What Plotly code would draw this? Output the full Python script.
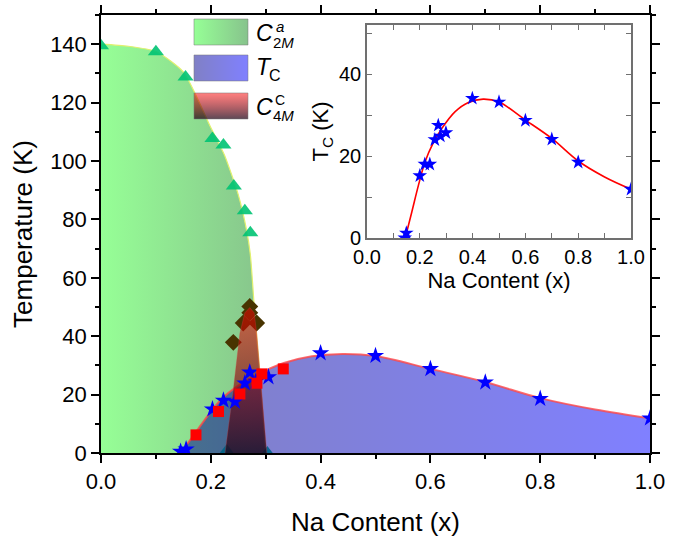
import plotly.graph_objects as go

# ---------------- data ----------------
# C2M^a phase boundary (green area)
c2m_x = [0.0, 0.05, 0.10, 0.15, 0.20, 0.225, 0.25, 0.265, 0.272, 0.28, 0.29, 0.30]
c2m_T = [140, 139.3, 137.5, 130.5, 111.5, 102, 88.5, 76.5, 68, 48, 26, 0]
# C2M^a data points (triangles)
tri_x = [0.0, 0.10, 0.154, 0.203, 0.223, 0.242, 0.262, 0.272, 0.229, 0.303]
tri_T = [139.5, 137.4, 128.8, 107.7, 105.5, 91.4, 83.0, 75.4, 0.7, 0.0]
# C4M^C dome (red area) and diamonds
c4m_x = [0.226, 0.241, 0.253, 0.262, 0.271, 0.279, 0.2836, 0.2927, 0.302]
c4m_T = [0, 21.6, 41, 48, 49.8, 48, 41, 21.6, 0]
dia_x = [0.241, 0.259, 0.271, 0.271, 0.2836]
dia_T = [37.9, 44.5, 48.0, 50.2, 44.5]
# Tc dome (blue area / red curve)
tc_x = [0.145, 0.17, 0.195, 0.22, 0.25, 0.283, 0.333, 0.384, 0.44, 0.50, 0.60, 0.70, 0.80, 0.90, 1.0]
tc_T = [0.0, 6.4, 12.9, 18.6, 23.1, 26.7, 30.8, 33.1, 33.9, 33.2, 28.8, 24.3, 18.8, 14.9, 11.9]
# Tc points, main panel (stars)
star_x = [0.145, 0.155, 0.203, 0.223, 0.244, 0.262, 0.271, 0.282, 0.305, 0.40, 0.50, 0.60, 0.70, 0.80, 1.0]
star_T = [0.5, 1.3, 15.0, 18.0, 17.6, 23.9, 27.6, 24.5, 26.0, 34.2, 33.3, 28.8, 24.2, 18.6, 11.9]
# other Tc points (red squares)
sq_x = [0.173, 0.214, 0.253, 0.284, 0.293, 0.332]
sq_T = [6.2, 14.2, 20.2, 23.9, 27.1, 28.8]
# inset stars
in_x = [0.143, 0.149, 0.20, 0.219, 0.238, 0.257, 0.27, 0.278, 0.299, 0.399, 0.50, 0.60, 0.70, 0.80, 1.0]
in_T = [0.0, 1.2, 15.2, 18.0, 18.0, 24.0, 27.5, 24.9, 25.7, 34.1, 33.2, 28.7, 24.1, 18.5, 11.9]

x_ticks = [0.0, 0.2, 0.4, 0.6, 0.8, 1.0]
y_ticks = [0, 20, 40, 60, 80, 100, 120, 140]
in_y_ticks = [0, 20, 40]

FONT = "Liberation Sans, Arial, sans-serif"

green_scale = [[0, "rgb(150,255,150)"], [1, "rgb(135,195,140)"]]
blue_scale = [[0, "rgba(0,0,140,0.5)"], [1, "rgba(0,0,255,0.5)"]]
red_scale = [[0, "rgba(30,0,20,0.72)"], [1, "rgba(255,0,0,0.5)"]]

fig = go.Figure()

# green C2M area
fig.add_trace(go.Scatter(
    x=c2m_x, y=c2m_T, mode="lines", line=dict(color="rgb(225,240,110)", width=1.2, shape="spline", smoothing=0.6),
    fill="tozeroy", fillgradient=dict(type="horizontal", colorscale=green_scale, start=0.0, stop=0.3),
    showlegend=False, hoverinfo="skip"))
fig.add_trace(go.Scatter(
    x=tri_x, y=tri_T, mode="markers",
    marker=dict(symbol="triangle-up", size=14, color="rgba(0,195,115,0.9)", line=dict(width=0)),
    showlegend=False))
fig.add_trace(go.Scatter(
    x=dia_x, y=dia_T, mode="markers",
    marker=dict(symbol="diamond", size=13, color="rgb(72,52,0)", line=dict(width=0)),
    showlegend=False))
# blue Tc area with red curve
fig.add_trace(go.Scatter(
    x=tc_x, y=tc_T, mode="lines", line=dict(color="rgba(255,70,70,0.8)", width=2, shape="spline", smoothing=1.0),
    fill="tozeroy", fillgradient=dict(type="horizontal", colorscale=blue_scale, start=0.145, stop=1.0),
    showlegend=False, hoverinfo="skip"))
# red C4M area
fig.add_trace(go.Scatter(
    x=c4m_x, y=c4m_T, mode="lines", line=dict(color="rgba(200,60,60,0.4)", width=0.8),
    fill="tozeroy", fillgradient=dict(type="vertical", colorscale=red_scale, start=0, stop=50),
    showlegend=False, hoverinfo="skip"))
fig.add_trace(go.Scatter(
    x=star_x, y=star_T, mode="markers",
    marker=dict(symbol="star", size=13, color="rgb(0,0,255)", line=dict(width=0)),
    showlegend=False))
fig.add_trace(go.Scatter(
    x=sq_x, y=sq_T, mode="markers",
    marker=dict(symbol="square", size=11, color="rgb(255,0,0)", line=dict(width=0)),
    showlegend=False))

# inset
fig.add_trace(go.Scatter(
    x=tc_x, y=tc_T, xaxis="x2", yaxis="y2", mode="lines",
    line=dict(color="rgb(255,0,0)", width=1.6, shape="spline", smoothing=1.0), showlegend=False))
fig.add_trace(go.Scatter(
    x=in_x, y=in_T, xaxis="x2", yaxis="y2", mode="markers",
    marker=dict(symbol="star", size=11, color="rgb(0,0,255)", line=dict(width=0)), showlegend=False))

# legend swatches (drawn in a helper axis measured in pixels)
lg_x0, lg_x1 = 194, 248
lg_boxes = [(80, 106, "horizontal", green_scale), (44, 70, "horizontal", blue_scale), (6, 32, "vertical", red_scale)]
for y0, y1, gtype, cs in lg_boxes:
    if gtype == "horizontal":
        grad = dict(type="horizontal", colorscale=cs, start=lg_x0, stop=lg_x1)
    else:
        grad = dict(type="vertical", colorscale=cs, start=y0, stop=y1)
    fig.add_trace(go.Scatter(
        x=[lg_x0, lg_x1, lg_x1, lg_x0, lg_x0], y=[y0, y0, y1, y1, y0], xaxis="x3", yaxis="y3",
        mode="lines", line=dict(color="rgba(120,120,120,0.5)", width=1), fill="toself",
        fillgradient=grad, showlegend=False, hoverinfo="skip"))

main_ax = dict(showline=True, linecolor="black", linewidth=1.5, mirror="allticks", ticks="outside",
               ticklen=8, tickwidth=1.5, tickcolor="black", showgrid=False, zeroline=False, automargin=False,
               tickfont=dict(family=FONT, size=22, color="black"))
fig.update_layout(
    width=682, height=538, margin=dict(l=101, r=32, t=15, b=85),
    paper_bgcolor="white", plot_bgcolor="rgba(0,0,0,0)", showlegend=False,
    font=dict(family=FONT, color="black"),
    xaxis=dict(**main_ax, range=[0, 1], tickvals=x_ticks, ticktext=[f"{v:.1f}" for v in x_ticks],
               minor=dict(dtick=0.1, ticklen=4, tickwidth=1.5, tickcolor="black", ticks="outside"),
               title=dict(text="Na Content (x)", font=dict(family=FONT, size=26), standoff=20)),
    yaxis=dict(**main_ax, range=[0, 150], tickvals=y_ticks,
               minor=dict(dtick=10, ticklen=4, tickwidth=1.5, tickcolor="black", ticks="outside"),
               title=dict(text="Temperature (K)", font=dict(family=FONT, size=26), standoff=10)),
    xaxis2=dict(domain=[0.4845, 0.9654], anchor="y2", range=[0, 1], tickvals=x_ticks,
                ticktext=[f"{v:.1f}" for v in x_ticks], showline=True, linecolor="#707070", linewidth=1.5,
                mirror="allticks", ticks="inside", ticklen=5, tickcolor="#707070", tickwidth=1.2,
                minor=dict(dtick=0.1, ticklen=5, tickcolor="#707070", ticks="inside"),
                showgrid=False, zeroline=False, automargin=False, tickfont=dict(family=FONT, size=20),
                title=dict(text="Na Content (x)", font=dict(family=FONT, size=22), standoff=2)),
    yaxis2=dict(domain=[0.491, 0.977], anchor="x2", range=[0, 52], tickvals=in_y_ticks,
                showline=True, linecolor="#707070", linewidth=1.5, mirror="allticks", ticks="inside",
                ticklen=5, tickcolor="#707070", tickwidth=1.2,
                minor=dict(dtick=10, ticklen=5, tickcolor="#707070", ticks="inside"),
                showgrid=False, zeroline=False, automargin=False, tickfont=dict(family=FONT, size=20),
                title=dict(text="T<sub>C</sub> (K)", font=dict(family=FONT, size=22), standoff=4)),
    xaxis3=dict(domain=[0.1530, 0.4353], anchor="y3", range=[185, 340], visible=False, fixedrange=True),
    yaxis3=dict(domain=[0.7489, 1.0], anchor="x3", range=[0, 110], visible=False, fixedrange=True),
)

# legend labels
lab = [
    ("<i>C</i>", 255, 92, 23), ("<i>a</i>", 275, 99, 15), ("2<i>M</i>", 272, 83, 15),
    ("<i>T</i>", 255, 58, 23), ("C", 268, 49, 16),
    ("<i>C</i>", 255, 18, 23), ("C", 274, 25, 14), ("4<i>M</i>", 272, 9.5, 15),
]
for txt, lx, ly, fs in lab:
    fig.add_annotation(text=txt, x=lx, y=ly, xref="x3", yref="y3", xanchor="left", yanchor="middle",
                       showarrow=False, font=dict(family=FONT, size=fs, color="black"), borderpad=0)

fig.write_html("out.html")
